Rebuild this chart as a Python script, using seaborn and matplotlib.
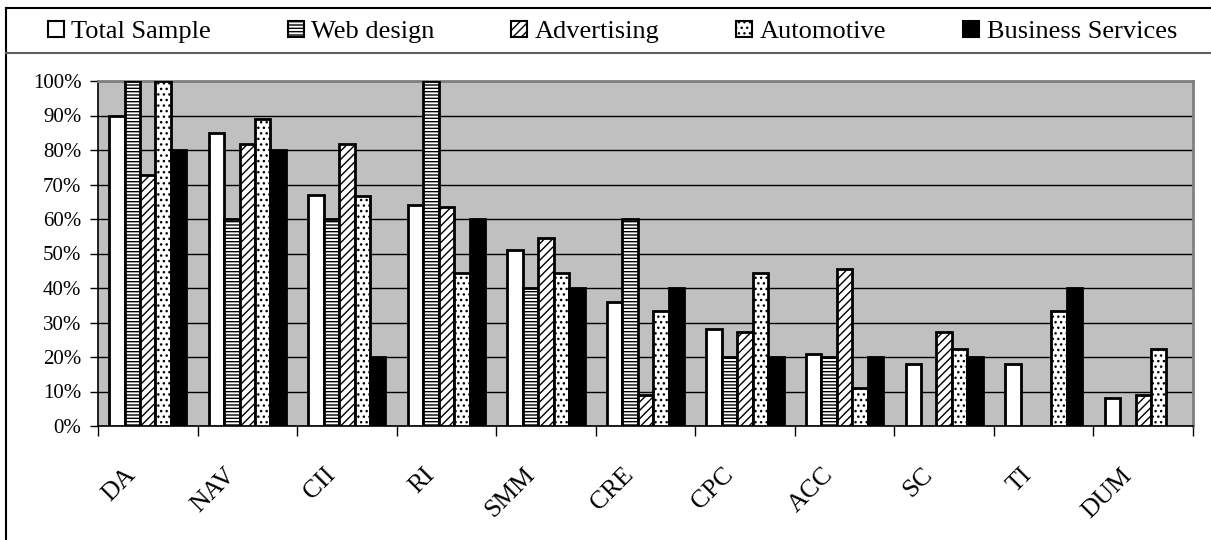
import matplotlib
matplotlib.use("Agg")
import matplotlib.pyplot as plt
import matplotlib.transforms as mtransforms
from matplotlib.lines import Line2D
from matplotlib.patches import Patch
from matplotlib.ticker import FixedLocator, FuncFormatter
import pandas as pd
import seaborn as sns

# カテゴリと系列
CATEGORIES = ["DA", "NAV", "CII", "RI", "SMM", "CRE", "CPC", "ACC", "SC", "TI", "DUM"]
SERIES = ["Total Sample", "Web design", "Advertising", "Automotive", "Business Services"]

total_sample = [90, 85, 67, 64, 51, 36, 28, 21, 18, 18, 8]
web_design = [100, 60, 60, 100, 40, 60, 20, 20, 0, 0, 0]
advertising = [72.7, 81.8, 81.8, 63.6, 54.5, 9.1, 27.3, 45.5, 27.3, 0, 9.1]
automotive = [100, 88.9, 66.7, 44.4, 44.4, 33.3, 44.4, 11.1, 22.2, 33.3, 22.2]
business_services = [80, 80, 20, 60, 40, 40, 20, 20, 20, 40, 0]

# 系列ごとの塗り
FACE = ["white", "white", "white", "white", "black"]
HATCH = [None, "-----", "////", "...", None]

plt.rcParams["font.family"] = ["Liberation Serif", "DejaVu Serif"]
plt.rcParams["hatch.linewidth"] = 1.0


def build_frame():
    values = [total_sample, web_design, advertising, automotive, business_services]
    rows = []
    for name, vals in zip(SERIES, values):
        for cat, v in zip(CATEGORIES, vals):
            rows.append({"category": cat, "series": name, "value": v})
    return pd.DataFrame(rows)


def main():
    df = build_frame()

    fig = plt.figure(figsize=(12.11, 5.4), dpi=100)
    ax = fig.add_axes([98 / 1211, 1 - 426 / 540, (1193 - 98) / 1211, (426 - 81) / 540])
    ax.set_facecolor("#c0c0c0")

    sns.barplot(
        data=df,
        x="category",
        y="value",
        hue="series",
        hue_order=SERIES,
        order=CATEGORIES,
        palette=FACE,
        width=0.775,
        gap=0,
        saturation=1,
        edgecolor="black",
        linewidth=2,
        legend=False,
        ax=ax,
        zorder=3,
    )

    # ハッチングと0の棒の非表示
    for cont, hatch in zip(ax.containers, HATCH):
        for bar in cont:
            if hatch:
                bar.set_hatch(hatch)
            if bar.get_height() == 0:
                bar.set_visible(False)

    ax.set_ylim(0, 100)
    ax.set_xlim(-0.5, len(CATEGORIES) - 0.5)
    ax.set_yticks(range(0, 101, 10))
    ax.yaxis.set_major_formatter(FuncFormatter(lambda v, p: f"{v:.0f}%"))
    ax.grid(axis="y", color="black", linewidth=1, zorder=0)
    ax.set_axisbelow(True)
    ax.set_xlabel("")
    ax.set_ylabel("")

    ax.tick_params(axis="y", direction="out", length=6, width=1, labelsize=15, pad=6)
    ax.xaxis.set_minor_locator(FixedLocator([i - 0.5 for i in range(len(CATEGORIES) + 1)]))
    ax.tick_params(axis="x", which="minor", direction="out", length=7, width=1)
    ax.tick_params(axis="x", which="major", length=0, labelsize=18.5, pad=33)

    offset = mtransforms.ScaledTranslation(-15 / 100, 0, fig.dpi_scale_trans)
    for lab in ax.get_xticklabels():
        lab.set_rotation(45)
        lab.set_rotation_mode("anchor")
        lab.set_ha("right")
        lab.set_va("center")
        lab.set_transform(lab.get_transform() + offset)

    for side in ["left", "bottom"]:
        ax.spines[side].set_color("black")
        ax.spines[side].set_linewidth(1.2)
    for side in ["top", "right"]:
        ax.spines[side].set_color("#808080")
        ax.spines[side].set_linewidth(2)

    # 凡例
    handles = [
        Patch(facecolor=f, edgecolor="black", hatch=h, linewidth=1.5)
        for f, h in zip(FACE, HATCH)
    ]
    fig.legend(
        handles,
        SERIES,
        loc="center",
        bbox_to_anchor=(0.5 + 7 / 1211, 1 - 32 / 540),
        ncol=5,
        frameon=False,
        fontsize=19,
        handlelength=0.6,
        handleheight=0.6,
        handletextpad=0.3,
        columnspacing=2.9,
    )

    # 外枠
    fig.add_artist(Line2D([6 / 1211, 1], [1 - 8 / 540, 1 - 8 / 540], color="black", linewidth=1.5))
    fig.add_artist(Line2D([6 / 1211, 6 / 1211], [0, 1 - 8 / 540], color="black", linewidth=1.5))
    fig.add_artist(Line2D([6 / 1211, 1], [1 - 53 / 540, 1 - 53 / 540], color="#606060", linewidth=1.5))

    fig.savefig("out.png", dpi=100)
    plt.close(fig)


if __name__ == "__main__":
    main()
